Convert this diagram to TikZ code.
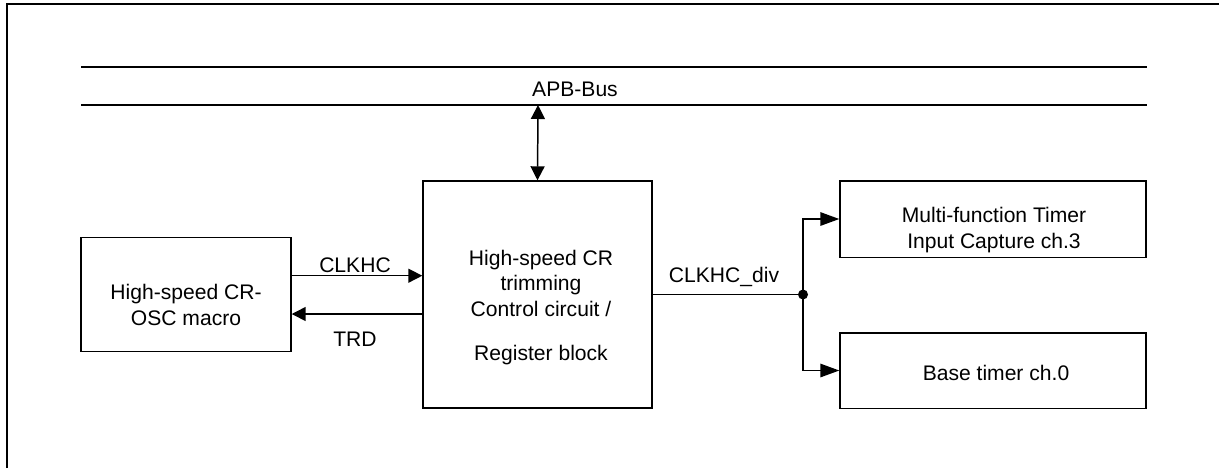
\documentclass[tikz,border=0pt]{standalone}
\usepackage{fontspec}
\setmainfont{Liberation Sans}
\usetikzlibrary{arrows.meta}

\begin{document}
\begin{tikzpicture}[x=0.02cm, y=-0.02cm,
    blk/.style={draw=black, line width=0.85pt, inner sep=0pt},
    txt/.style={align=center, inner sep=0pt, font=\fontsize{12}{14.5}\selectfont},
    sig/.style={line width=0.85pt, -{Triangle[length=0.28cm, width=0.28cm]}},
    outsig/.style={line width=0.85pt, -{Triangle[length=0.38cm, width=0.27cm]}},
    bus/.style={line width=0.85pt}]
  \useasboundingbox (0,0) rectangle (1219,468);
  \draw[line width=1.1pt] (7,468) -- (7,4) -- (1219,4);

  \draw[bus] (81,67) -- (1147,67);
  \draw[bus] (81,105) -- (1147,105);
  \node[txt, anchor=base] (apb) at (575,96) {APB-Bus};
  \coordinate (busB) at (538,105);

  \node[blk, minimum width=4.2cm, minimum height=2.29cm] (osc) at (186,294.5) {};
  \node[txt] (osctxt) at (186,305) {High-speed CR-\\OSC macro};

  \node[blk, minimum width=4.58cm, minimum height=4.54cm] (trim) at (537.5,294.5) {};
  \node[txt] (trimtxt) at (541,307.5) {High-speed CR\\trimming\\Control circuit /\\[0.37cm]Register block};

  \node[blk, minimum width=6.12cm, minimum height=1.53cm] (mft) at (993,219) {};
  \node[txt] (mfttxt) at (994,230) {Multi-function Timer\\Input Capture ch.3};
  \node[blk, minimum width=6.12cm, minimum height=1.51cm] (bt) at (993,370.5) {};
  \node[txt] (bttxt) at (996,373) {Base timer ch.0};

  \draw[line width=0.85pt, {Triangle[length=0.28cm, width=0.28cm]}-{Triangle[length=0.28cm, width=0.28cm]}]
    (busB) -- (trim.north);

  \draw[sig] ([yshift=0.376cm]osc.east) -- ([yshift=0.376cm]trim.west);
  \draw[sig] ([yshift=-0.39cm]trim.west) -- ([yshift=-0.39cm]osc.east);
  \node[txt, anchor=base] (clkhc) at (355,272.3) {CLKHC};
  \node[txt, anchor=base] (trd) at (355,346.7) {TRD};

  \coordinate (jn) at (803,294.5);
  \draw[line width=0.85pt] (trim.east) -- (jn);
  \fill (jn) circle (0.1cm);
  \draw[outsig] (jn) |- (mft.west);
  \draw[outsig] (jn) |- (bt.west);
  \node[txt, anchor=base] (clkdiv) at (724,282.3) {CLKHC\_div};
\end{tikzpicture}
\end{document}
